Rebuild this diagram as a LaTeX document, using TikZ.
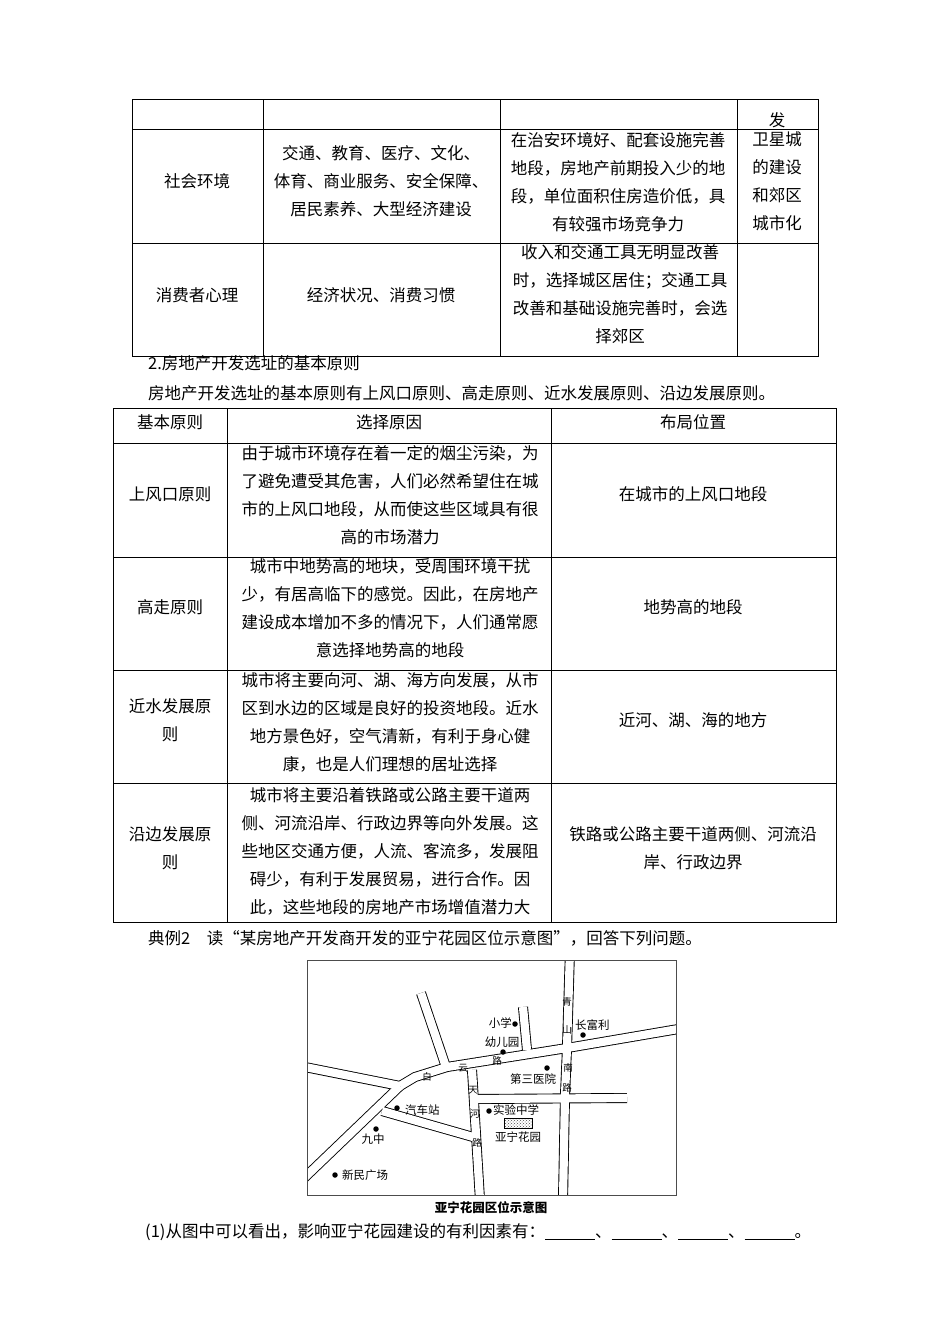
\documentclass[tikz,border=0pt]{standalone}
\usepackage{fontspec}
\setmainfont{Noto Sans CJK SC}
\usetikzlibrary{patterns}
\begin{document}
\begin{tikzpicture}[x=1pt,y=-1pt,
  cell/.style={font=\fontsize{16.5}{28}\selectfont,align=center,inner sep=0pt},
  txt/.style={font=\fontsize{16.5}{28}\selectfont,anchor=west,inner sep=0pt},
  lab/.style={font=\fontsize{11.5}{13}\selectfont,inner sep=0pt},
  rl/.style={font=\fontsize{9.5}{10}\selectfont,inner sep=0pt},
  dot/.style={circle,fill=black,inner sep=0pt,minimum size=5.5pt},
  grid/.style={line width=0.8pt}]
\useasboundingbox (0,0) rectangle (950,1344);
\fill[white] (0,0) rectangle (950,1344);
% table 1
\draw[grid] (132,99) rectangle (818,356);
\foreach \x in {263,500,737} \draw[grid] (\x,99) -- (\x,356);
\foreach \y in {129,243} \draw[grid] (132,\y) -- (818,\y);
\node[cell] (t0) at (777,120) {发};
\node[cell] (a1) at (197,181) {社会环境};
\node[cell] (a2) at (381,181) {交通、教育、医疗、文化、\\体育、商业服务、安全保障、\\居民素养、大型经济建设};
\node[cell] (a3) at (618,182) {在治安环境好、配套设施完善\\地段，房地产前期投入少的地\\段，单位面积住房造价低，具\\有较强市场竞争力};
\node[cell] (a4) at (777,181) {卫星城\\的建设\\和郊区\\城市化};
\node[cell] (b1) at (197,295) {消费者心理};
\node[cell] (b2) at (381,295) {经济状况、消费习惯};
\node[cell] (b3) at (620,294) {收入和交通工具无明显改善\\时，选择城区居住；交通工具\\改善和基础设施完善时，会选\\择郊区};
\node[txt] (h1) at (148,363) {2.房地产开发选址的基本原则};
\node[txt] (h2) at (148,393) {房地产开发选址的基本原则有上风口原则、高走原则、近水发展原则、沿边发展原则。};
% table 2
\draw[grid] (113,408) rectangle (836,922);
\foreach \x in {227,551} \draw[grid] (\x,408) -- (\x,922);
\foreach \y in {443,557,670,783} \draw[grid] (113,\y) -- (836,\y);
\node[cell] (c1) at (170,422) {基本原则};
\node[cell] (c2) at (389,422) {选择原因};
\node[cell] (c3) at (693,422) {布局位置};
\node[cell] (d1) at (170,494) {上风口原则};
\node[cell] (d2) at (390,495) {由于城市环境存在着一定的烟尘污染，为\\了避免遭受其危害，人们必然希望住在城\\市的上风口地段，从而使这些区域具有很\\高的市场潜力};
\node[cell] (d3) at (693,494) {在城市的上风口地段};
\node[cell] (e1) at (170,607) {高走原则};
\node[cell] (e2) at (390,608) {城市中地势高的地块，受周围环境干扰\\少，有居高临下的感觉。因此，在房地产\\建设成本增加不多的情况下，人们通常愿\\意选择地势高的地段};
\node[cell] (e3) at (693,607) {地势高的地段};
\node[cell] (f1) at (170,720) {近水发展原\\则};
\node[cell] (f2) at (390,722) {城市将主要向河、湖、海方向发展，从市\\区到水边的区域是良好的投资地段。近水\\地方景色好，空气清新，有利于身心健\\康，也是人们理想的居址选择};
\node[cell] (f3) at (693,720) {近河、湖、海的地方};
\node[cell] (g1) at (170,848) {沿边发展原\\则};
\node[cell] (g2) at (390,851) {城市将主要沿着铁路或公路主要干道两\\侧、河流沿岸、行政边界等向外发展。这\\些地区交通方便，人流、客流多，发展阻\\碍少，有利于发展贸易，进行合作。因\\此，这些地段的房地产市场增值潜力大};
\node[cell] (g3) at (693,848) {铁路或公路主要干道两侧、河流沿\\岸、行政边界};
\node[txt] (h3) at (148,938) {典例2\quad 读“某房地产开发商开发的亚宁花园区位示意图”，回答下列问题。};
% map
\begin{scope}
\clip (307,960) rectangle (676,1195);
\foreach \w/\c in {10/black,8.2/white}{
 \draw[line width=\w pt,\c,line join=round] (300,1066)--(400,1086);
 \draw[line width=\w pt,\c,line join=round] (400,1086)--(415,1077)--(447,1067)--(567,1048)--(690,1027);
 \draw[line width=\w pt,\c,line join=round] (400,1086)--(300,1182);
 \draw[line width=\w pt,\c] (421,993)--(446,1067);
 \draw[line width=\w pt,\c] (523,1007)--(527,1050);
 \draw[line width=\w pt,\c,line join=round] (570,950)--(567,1048)--(565,1095)--(563,1200);
 \draw[line width=\w pt,\c,line join=round] (472,1070)--(474,1102)--(480,1200);
 \draw[line width=\w pt,\c] (474,1099)--(627,1098);
 \draw[line width=\w pt,\c] (382,1111)--(473,1137);
}
\end{scope}
\draw[line width=0.8pt,black!70] (307,960) rectangle (676,1195);
\node[rl] (r1) at (427,1077) {白};
\node[rl] (r2) at (463,1068) {云};
\node[rl] (r3) at (497,1061) {路};
\node[rl] (q1) at (567,1002) {青};
\node[rl] (q2) at (567,1030) {山};
\node[rl] (q3) at (568,1068) {南};
\node[rl] (q4) at (567,1088) {路};
\node[rl] (s1) at (473,1090) {天};
\node[rl] (s2) at (475,1114) {河};
\node[rl] (s3) at (477,1143) {路};
\node[dot] (p1) at (515,1024) {}; \node[lab,anchor=east] (l1) at (512,1023) {小学};
\node[dot] (p2) at (503,1052) {}; \node[lab] (l2) at (502,1042) {幼儿园};
\node[dot] (p3) at (583,1035) {}; \node[lab,anchor=west] (l3) at (575,1025) {长富利};
\node[dot] (p4) at (547,1068) {}; \node[lab] (l4) at (533,1079) {第三医院};
\node[dot] (p5) at (397,1108) {}; \node[lab,anchor=west] (l5) at (405,1110) {汽车站};
\node[dot] (p6) at (489,1111) {}; \node[lab,anchor=west] (l6) at (493,1110) {实验中学};
\draw[pattern=crosshatch dots,pattern color=black!70] (504,1118) rectangle (532,1128);
\node[lab] (l7) at (518,1137) {亚宁花园};
\node[dot] (p8) at (376,1129) {}; \node[lab] (l8) at (373,1139) {九中};
\node[dot] (p9) at (335,1175) {}; \node[lab,anchor=west] (l9) at (342,1175) {新民广场};
\node[font=\fontsize{12.5}{14}\selectfont\bfseries] (cap) at (491,1208) {亚宁花园区位示意图};
\node[txt] (h4) at (145,1232) {(1)从图中可以看出，影响亚宁花园建设的有利因素有：\underline{\hspace{50pt}}、\underline{\hspace{50pt}}、\underline{\hspace{50pt}}、\underline{\hspace{50pt}}。};
\end{tikzpicture}
\end{document}
